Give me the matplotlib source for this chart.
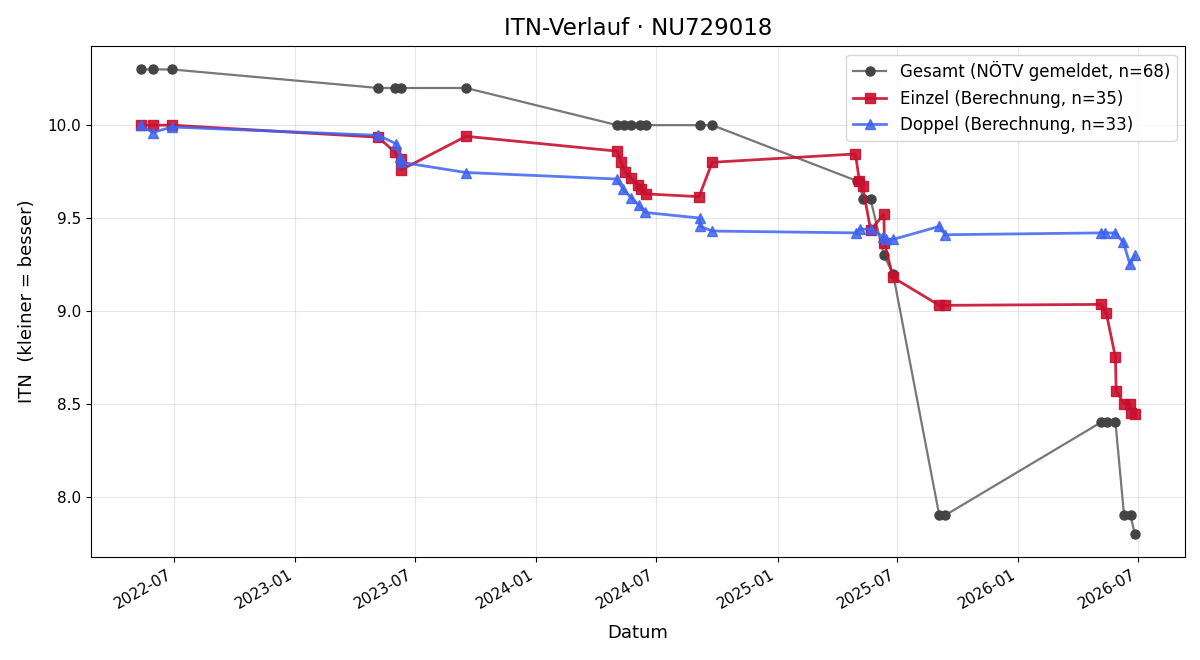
import matplotlib
matplotlib.use("Agg")
import matplotlib.pyplot as plt
import matplotlib.dates as mdates
import pandas as pd

gesamt_dates = ["2022-05-12", "2022-05-30", "2022-06-28", "2023-05-07", "2023-06-02",
                "2023-06-10", "2023-09-17", "2024-05-03", "2024-05-14", "2024-05-24",
                "2024-06-06", "2024-06-15", "2024-09-06", "2024-09-24", "2025-05-01",
                "2025-05-05", "2025-05-10", "2025-05-22", "2025-06-11", "2025-06-25",
                "2025-09-03", "2025-09-12", "2026-05-06", "2026-05-15", "2026-05-28",
                "2026-06-10", "2026-06-20", "2026-06-26"]
gesamt_vals = [10.3, 10.3, 10.3, 10.2, 10.2,
               10.2, 10.2, 10.0, 10.0, 10.0,
               10.0, 10.0, 10.0, 10.0, 9.7,
               9.7, 9.6, 9.6, 9.3, 9.2,
               7.9, 7.9, 8.4, 8.4, 8.4,
               7.9, 7.9, 7.8]

einzel_dates = ["2022-05-12", "2022-05-30", "2022-06-28", "2023-05-07", "2023-06-01",
                "2023-06-10", "2023-06-11", "2023-09-17", "2024-05-03", "2024-05-09",
                "2024-05-15", "2024-05-24", "2024-06-03", "2024-06-08", "2024-06-15",
                "2024-09-04", "2024-09-24", "2025-04-29", "2025-05-05", "2025-05-10",
                "2025-05-22", "2025-06-11", "2025-06-12", "2025-06-25", "2025-09-03",
                "2025-09-12", "2026-05-06", "2026-05-14", "2026-05-28", "2026-05-29",
                "2026-06-10", "2026-06-19", "2026-06-21", "2026-06-27"]
einzel_vals = [10.0, 10.0, 10.0, 9.935, 9.855,
               9.82, 9.76, 9.94, 9.86, 9.80,
               9.75, 9.715, 9.68, 9.655, 9.63,
               9.615, 9.80, 9.845, 9.70, 9.67,
               9.435, 9.52, 9.365, 9.18, 9.03,
               9.03, 9.035, 8.99, 8.75, 8.57,
               8.50, 8.50, 8.45, 8.445]

doppel_dates = ["2022-05-12", "2022-05-30", "2022-06-28", "2023-05-07", "2023-06-03",
                "2023-06-09", "2023-06-11", "2023-09-17", "2024-05-02", "2024-05-12",
                "2024-05-24", "2024-06-05", "2024-06-14", "2024-09-05", "2024-09-06",
                "2024-09-24", "2025-04-30", "2025-05-06", "2025-05-22", "2025-06-10",
                "2025-06-14", "2025-06-25", "2025-09-03", "2025-09-12", "2026-05-06",
                "2026-05-12", "2026-05-27", "2026-06-09", "2026-06-19", "2026-06-26"]
doppel_vals = [10.0, 9.96, 9.99, 9.945, 9.90,
               9.83, 9.80, 9.745, 9.71, 9.655,
               9.61, 9.57, 9.53, 9.50, 9.455,
               9.43, 9.42, 9.44, 9.44, 9.40,
               9.385, 9.385, 9.455, 9.41, 9.42,
               9.42, 9.42, 9.37, 9.25, 9.30]

fig, ax = plt.subplots(figsize=(12, 6.6), dpi=100)

ax.plot(pd.to_datetime(gesamt_dates), gesamt_vals, marker="o", ms=6.5, lw=1.6,
        color="#777777", markerfacecolor="#444444", markeredgecolor="#444444",
        label="Gesamt (NÖTV gemeldet, n=68)")
ax.plot(pd.to_datetime(einzel_dates), einzel_vals, marker="s", ms=7, lw=2,
        color="#c8102e", alpha=0.9, label="Einzel (Berechnung, n=35)")
ax.plot(pd.to_datetime(doppel_dates), doppel_vals, marker="^", ms=7, lw=2,
        color="#3d63f0", alpha=0.85, label="Doppel (Berechnung, n=33)")

ax.set_title("ITN-Verlauf · NU729018", fontsize=16.5, pad=8)
ax.set_xlabel("Datum", fontsize=13, labelpad=9)
ax.set_ylabel("ITN  (kleiner = besser)", fontsize=13, labelpad=8)
ax.grid(True, alpha=0.3)
ax.xaxis.set_major_locator(mdates.MonthLocator(bymonth=[1, 7]))
ax.xaxis.set_major_formatter(mdates.DateFormatter("%Y-%m"))
ax.tick_params(labelsize=11)
ax.legend(loc="upper right", fontsize=12)
fig.autofmt_xdate()
fig.subplots_adjust(left=0.0758, right=0.9875, top=0.930, bottom=0.156)
fig.savefig("out.png")
